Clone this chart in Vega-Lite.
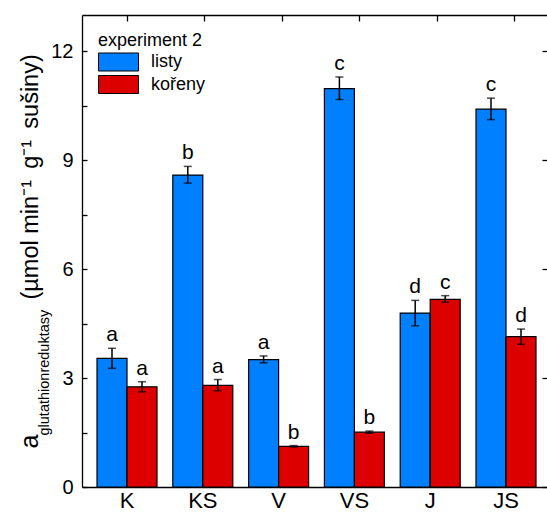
{
  "$schema": "https://vega.github.io/schema/vega-lite/v6.json",
  "width": 465,
  "height": 472,
  "autosize": {"type": "none"},
  "padding": {"left": 82, "top": 15, "right": 0, "bottom": 26},
  "background": "white",
  "config": {
    "font": "Liberation Sans",
    "view": {"stroke": null},
    "axis": {
      "labelColor": "black",
      "titleColor": "black",
      "titleFontWeight": "normal",
      "domainColor": "black",
      "domainWidth": 1.3,
      "tickColor": "black",
      "tickWidth": 1.3,
      "grid": false
    },
    "legend": {"labelColor": "black", "titleColor": "black"}
  },
  "data": {
    "values": [
      {"group": "K", "part": "listy", "mean": 3.54, "lo": 3.27, "hi": 3.82, "letter": "a"},
      {"group": "K", "part": "kořeny", "mean": 2.76, "lo": 2.62, "hi": 2.90, "letter": "a"},
      {"group": "KS", "part": "listy", "mean": 8.59, "lo": 8.37, "hi": 8.83, "letter": "b"},
      {"group": "KS", "part": "kořeny", "mean": 2.80, "lo": 2.65, "hi": 2.96, "letter": "a"},
      {"group": "V", "part": "listy", "mean": 3.51, "lo": 3.42, "hi": 3.61, "letter": "a"},
      {"group": "V", "part": "kořeny", "mean": 1.12, "lo": 1.10, "hi": 1.14, "letter": "b"},
      {"group": "VS", "part": "listy", "mean": 10.97, "lo": 10.67, "hi": 11.29, "letter": "c"},
      {"group": "VS", "part": "kořeny", "mean": 1.51, "lo": 1.48, "hi": 1.54, "letter": "b"},
      {"group": "J", "part": "listy", "mean": 4.79, "lo": 4.44, "hi": 5.14, "letter": "d"},
      {"group": "J", "part": "kořeny", "mean": 5.17, "lo": 5.09, "hi": 5.27, "letter": "c"},
      {"group": "JS", "part": "listy", "mean": 10.41, "lo": 10.12, "hi": 10.71, "letter": "c"},
      {"group": "JS", "part": "kořeny", "mean": 4.14, "lo": 3.93, "hi": 4.35, "letter": "d"}
    ]
  },
  "resolve": {"scale": {"x": "independent", "y": "independent"}},
  "layer": [
    {
      "encoding": {
        "x": {
          "field": "group",
          "type": "nominal",
          "scale": {"domain": ["K", "KS", "V", "VS", "J", "JS"], "paddingInner": 0.2084, "paddingOuter": 0.1715, "align": 0.577},
          "axis": {"orient": "bottom", "title": null, "ticks": false, "labelAngle": 0, "labelFontSize": 22, "labelPadding": 3}
        },
        "xOffset": {
          "field": "part",
          "type": "nominal",
          "scale": {"domain": ["listy", "kořeny"], "paddingInner": 0, "paddingOuter": 0}
        }
      },
      "layer": [
        {
          "mark": {"type": "bar", "stroke": "black", "strokeWidth": 1.2},
          "encoding": {
            "y": {
              "field": "mean",
              "type": "quantitative",
              "scale": {"domain": [0, 13], "nice": false, "zero": true},
              "axis": {
                "orient": "left",
                "values": [0, 1.5, 3, 4.5, 6, 7.5, 9, 10.5, 12],
                "labelExpr": "datum.value % 3 === 0 ? datum.label : ''",
                "labelFontSize": 20,
                "tickSize": -5,
                "labelPadding": 14,
                "title": "(µmol min⁻¹\u2009 g⁻¹\u2009 sušiny)",
                "titleFontSize": 23.5,
                "titleAngle": 270,
                "titleAlign": "left",
                "titleBaseline": "alphabetic",
                "titleX": -45,
                "titleY": 284
              }
            },
            "color": {
              "field": "part",
              "type": "nominal",
              "scale": {"domain": ["listy", "kořeny"], "range": ["#0080ff", "#dd0000"]},
              "legend": {
                "title": "experiment 2",
                "orient": "none",
                "legendX": 16,
                "legendY": 17,
                "padding": 0,
                "symbolType": "M-1,-0.45H1V0.45H-1Z",
                "symbolSize": 1600,
                "symbolStrokeColor": "black",
                "symbolStrokeWidth": 1,
                "symbolOpacity": 1,
                "clipHeight": 20,
                "rowPadding": 2.5,
                "labelFontSize": 18,
                "labelOffset": 12,
                "titleFontSize": 18,
                "titleFontWeight": "normal",
                "titlePadding": 2
              }
            }
          }
        },
        {
          "mark": {"type": "rule", "color": "black", "strokeWidth": 1.5},
          "encoding": {
            "y": {"field": "lo", "type": "quantitative"},
            "y2": {"field": "hi"}
          }
        },
        {
          "transform": [{"fold": ["lo", "hi"], "as": ["end", "endValue"]}],
          "mark": {"type": "tick", "color": "black", "size": 8, "thickness": 1.5, "orient": "horizontal"},
          "encoding": {
            "y": {"field": "endValue", "type": "quantitative"}
          }
        },
        {
          "mark": {"type": "text", "fontSize": 21, "baseline": "alphabetic", "dy": -7, "color": "black"},
          "encoding": {
            "y": {"field": "hi", "type": "quantitative"},
            "text": {"field": "letter"}
          }
        }
      ]
    },
    {
      "mark": {"type": "point", "opacity": 0},
      "encoding": {
        "x": {
          "field": "group",
          "type": "nominal",
          "scale": {"domain": ["K", "KS", "V", "VS", "J", "JS"], "paddingInner": 0.2084, "paddingOuter": 0.1715, "align": 0.577},
          "axis": {"orient": "top", "title": null, "labels": false, "ticks": true, "tickSize": -6, "domain": true}
        },
        "y": {
          "field": "mean",
          "type": "quantitative",
          "scale": {"domain": [0, 13], "nice": false, "zero": true},
          "axis": {"orient": "right", "title": null, "labels": false, "domain": false, "values": [0, 3, 6, 9, 12], "tickSize": -5}
        }
      }
    },
    {
      "mark": {"type": "point", "opacity": 0},
      "encoding": {
        "y": {
          "field": "mean",
          "type": "quantitative",
          "scale": {"domain": [0, 13], "nice": false, "zero": true},
          "axis": {
            "orient": "left",
            "labels": false,
            "ticks": false,
            "domain": false,
            "title": "glutathionreduktasy",
            "titleFontSize": 14.5,
            "titleAngle": 270,
            "titleAlign": "left",
            "titleBaseline": "alphabetic",
            "titleX": -34,
            "titleY": 420
          }
        }
      }
    },
    {
      "mark": {"type": "point", "opacity": 0},
      "encoding": {
        "y": {
          "field": "mean",
          "type": "quantitative",
          "scale": {"domain": [0, 13], "nice": false, "zero": true},
          "axis": {
            "orient": "left",
            "labels": false,
            "ticks": false,
            "domain": false,
            "title": "a",
            "titleFontSize": 25,
            "titleAngle": 270,
            "titleAlign": "left",
            "titleBaseline": "alphabetic",
            "titleX": -45,
            "titleY": 433
          }
        }
      }
    }
  ]
}
